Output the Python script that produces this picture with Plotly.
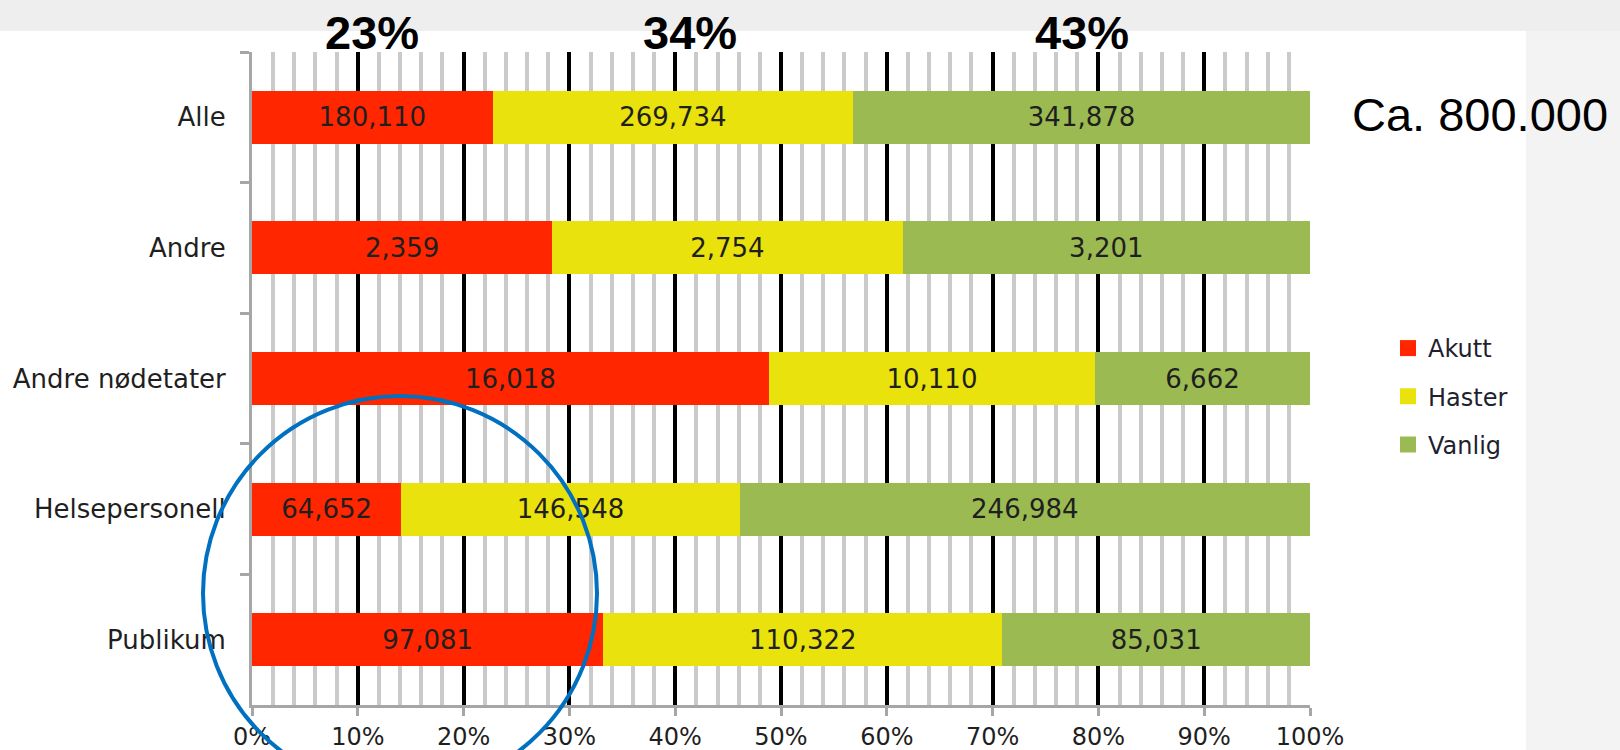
import plotly.graph_objects as go

categories = ["Alle", "Andre", "Andre nødetater", "Helsepersonell", "Publikum"]
akutt = [180110, 2359, 16018, 64652, 97081]
haster = [269734, 2754, 10110, 146548, 110322]
vanlig = [341878, 3201, 6662, 246984, 85031]
series_names = ["Akutt", "Haster", "Vanlig"]
colors = ["#FF2600", "#EAE20C", "#9BBA52"]
x_ticks = list(range(0, 101, 10))
x_ticktext = [f"{v}%" for v in x_ticks]
total_note = "Ca. 800.000"

W, H = 1620, 750
L, R, T, B = 252, 1310, 52, 705
pw, ph = R - L, B - T


def px(x):
    return (x - L) / pw


def py(y):
    return (B - y) / ph


FAM = "DejaVu Sans, Verdana, sans-serif"
lbl_font = dict(family=FAM, size=25, color="#1f1f1f")

fig = go.Figure()
series = [akutt, haster, vanlig]
for name, vals, col in zip(series_names, series, colors):
    fig.add_trace(go.Bar(
        y=categories, x=vals, orientation="h", name=name,
        marker=dict(color=col, line=dict(width=0)),
        text=vals, texttemplate="%{text:,.0f}", textposition="inside",
        insidetextanchor="middle", textangle=0,
        textfont=dict(family=FAM, size=26, color="#1f1f1f"),
        showlegend=False, constraintext="none",
    ))
    # legend-only entry with a larger square swatch
    fig.add_trace(go.Scatter(
        x=[None], y=[None], mode="markers", name=name, legendgroup=name,
        marker=dict(symbol="square", size=17, color=col), showlegend=True,
    ))

# share of "Alle" per series, placed over each segment of the top bar
alle_vals = [s[0] for s in series]
alle_total = sum(alle_vals)
shares = [v / alle_total * 100 for v in alle_vals]
cum = 0
xshifts = [0, 17, 0]
for sh, xs in zip(shares, xshifts):
    fig.add_annotation(
        x=cum + sh / 2, y=py(33), xref="x", yref="paper",
        text=f"<b>{round(sh)}%</b>", showarrow=False, xshift=xs,
        font=dict(family="Liberation Sans, Arial, sans-serif", size=47, color="#000"),
        xanchor="center", yanchor="middle",
    )
    cum += sh

fig.add_annotation(
    x=px(1350), y=py(114), xref="paper", yref="paper", text=total_note,
    showarrow=False, xanchor="left", yanchor="middle",
    font=dict(family="Liberation Sans, Arial, sans-serif", size=47, color="#000"),
)

# page background bands
fig.add_shape(type="rect", xref="paper", yref="paper", layer="below",
              x0=px(0), x1=px(W), y0=py(31), y1=py(0),
              fillcolor="#EEEEEE", line=dict(width=0))
fig.add_shape(type="rect", xref="paper", yref="paper", layer="below",
              x0=px(1526), x1=px(W), y0=py(H), y1=py(31),
              fillcolor="#F3F3F3", line=dict(width=0))
# highlight circle
fig.add_shape(type="circle", xref="paper", yref="paper", layer="above",
              x0=px(203), x1=px(597), y0=py(791), y1=py(396),
              line=dict(color="#0070C0", width=4), fillcolor="rgba(0,0,0,0)")

fig.update_layout(
    template="none",
    width=W, height=H,
    margin=dict(l=L, r=W - R, t=T, b=H - B, pad=0, autoexpand=False),
    paper_bgcolor="#FFFFFF", plot_bgcolor="#FFFFFF",
    barmode="stack", barnorm="percent", bargap=0.595,
    font=lbl_font,
    legend=dict(x=px(1388), y=py(326), xanchor="left", yanchor="top",
                traceorder="grouped", tracegroupgap=14,
                font=dict(family=FAM, size=24, color="#1f1f2f"),
                bgcolor="rgba(0,0,0,0)", borderwidth=0),
    xaxis=dict(
        automargin=False,
        range=[0, 100], tickmode="array", tickvals=x_ticks, ticktext=x_ticktext,
        showgrid=True, gridcolor="#000000", gridwidth=4, zeroline=False,
        minor=dict(dtick=2, showgrid=True, gridcolor="#CACACA", gridwidth=4, ticks=""),
        showline=True, linecolor="#A6A6A6", linewidth=3,
        ticks="outside", ticklen=8, tickwidth=3, tickcolor="#A6A6A6",
        tickfont=dict(family=FAM, size=24, color="#1f1f1f"), fixedrange=True,
    ),
    yaxis=dict(
        automargin=False,
        categoryorder="array", categoryarray=categories, autorange="reversed",
        showgrid=False, zeroline=False,
        showline=True, linecolor="#A6A6A6", linewidth=3,
        ticks="outside", tickson="boundaries", ticklen=9, tickwidth=3, tickcolor="#A6A6A6",
        ticklabelstandoff=18,
        tickfont=dict(family=FAM, size=26, color="#1f1f1f"), fixedrange=True,
    ),
)

fig.write_html("out.html")
